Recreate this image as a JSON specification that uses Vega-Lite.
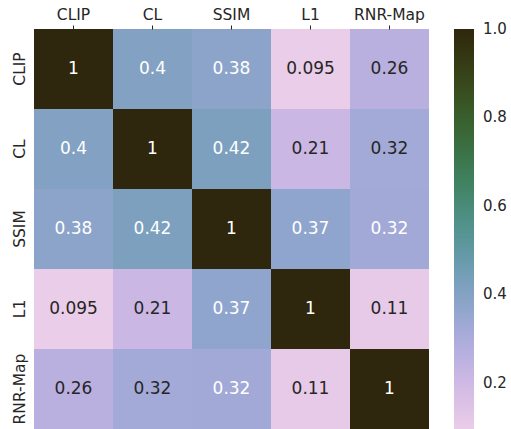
{
  "$schema": "https://vega.github.io/schema/vega-lite/v6.json",
  "width": 395,
  "height": 400,
  "autosize": {"type": "none"},
  "padding": {"left": 34, "top": 29, "right": 82, "bottom": 0},
  "background": "white",
  "config": {"view": {"stroke": null}, "font": "DejaVu Sans"},
  "data": {"values": [
    {"row": "CLIP", "col": "CLIP", "value": 1},
    {"row": "CLIP", "col": "CL", "value": 0.403},
    {"row": "CLIP", "col": "SSIM", "value": 0.38},
    {"row": "CLIP", "col": "L1", "value": 0.095},
    {"row": "CLIP", "col": "RNR-Map", "value": 0.26},
    {"row": "CL", "col": "CLIP", "value": 0.403},
    {"row": "CL", "col": "CL", "value": 1},
    {"row": "CL", "col": "SSIM", "value": 0.42},
    {"row": "CL", "col": "L1", "value": 0.21},
    {"row": "CL", "col": "RNR-Map", "value": 0.318},
    {"row": "SSIM", "col": "CLIP", "value": 0.38},
    {"row": "SSIM", "col": "CL", "value": 0.42},
    {"row": "SSIM", "col": "SSIM", "value": 1},
    {"row": "SSIM", "col": "L1", "value": 0.37},
    {"row": "SSIM", "col": "RNR-Map", "value": 0.322},
    {"row": "L1", "col": "CLIP", "value": 0.095},
    {"row": "L1", "col": "CL", "value": 0.21},
    {"row": "L1", "col": "SSIM", "value": 0.37},
    {"row": "L1", "col": "L1", "value": 1},
    {"row": "L1", "col": "RNR-Map", "value": 0.11},
    {"row": "RNR-Map", "col": "CLIP", "value": 0.26},
    {"row": "RNR-Map", "col": "CL", "value": 0.318},
    {"row": "RNR-Map", "col": "SSIM", "value": 0.322},
    {"row": "RNR-Map", "col": "L1", "value": 0.11},
    {"row": "RNR-Map", "col": "RNR-Map", "value": 1}
  ]},
  "encoding": {
    "x": {"field": "col", "type": "nominal", "sort": ["CLIP", "CL", "SSIM", "L1", "RNR-Map"],
      "scale": {"paddingInner": 0, "paddingOuter": 0},
      "axis": {"orient": "top", "title": null, "labelAngle": 0, "domain": false, "tickSize": 4, "tickColor": "#262626", "labelColor": "#262626", "labelFontSize": 15.5, "labelPadding": 3}},
    "y": {"field": "row", "type": "nominal", "sort": ["CLIP", "CL", "SSIM", "L1", "RNR-Map"],
      "scale": {"paddingInner": 0, "paddingOuter": 0},
      "axis": {"title": null, "labelAngle": -90, "labelAlign": "center", "labelBaseline": "bottom", "domain": false, "ticks": false, "labelColor": "#262626", "labelFontSize": 15.5, "labelPadding": 7}}
  },
  "layer": [
    {"mark": {"type": "rect", "strokeWidth": 0},
     "encoding": {"color": {"field": "value", "type": "quantitative",
       "scale": {"domain": [0.095, 0.1855, 0.276, 0.3665, 0.457, 0.5475, 0.638, 0.7285, 0.819, 0.9095, 1.0],
                 "range": ["#eacde8", "#d4bbe5", "#b4aede", "#91a5ce", "#6e9db3", "#53938f", "#428568", "#3a7143", "#395927", "#373f16", "#2f260e"],
                 "interpolate": "rgb"},
       "legend": {"title": null, "orient": "none", "legendX": 420, "legendY": 0, "padding": 0, "gradientLength": 400, "gradientThickness": 20, "gradientStrokeWidth": 0, "values": [0.2, 0.4, 0.6, 0.8, 1.0], "format": ".1f", "labelFontSize": 15, "labelColor": "#262626", "labelOffset": 9, "labelBaseline": "middle",
         "encode": {"labels": {"update": {"baseline": {"value": "middle"}}}}}}}},
    {"mark": {"type": "text", "fontSize": 17},
     "encoding": {"text": {"field": "value", "type": "quantitative", "format": ".2~g"},
       "color": {"condition": {"test": "datum.value > 0.32", "value": "white"}, "value": "#262626"}}}
  ]
}
